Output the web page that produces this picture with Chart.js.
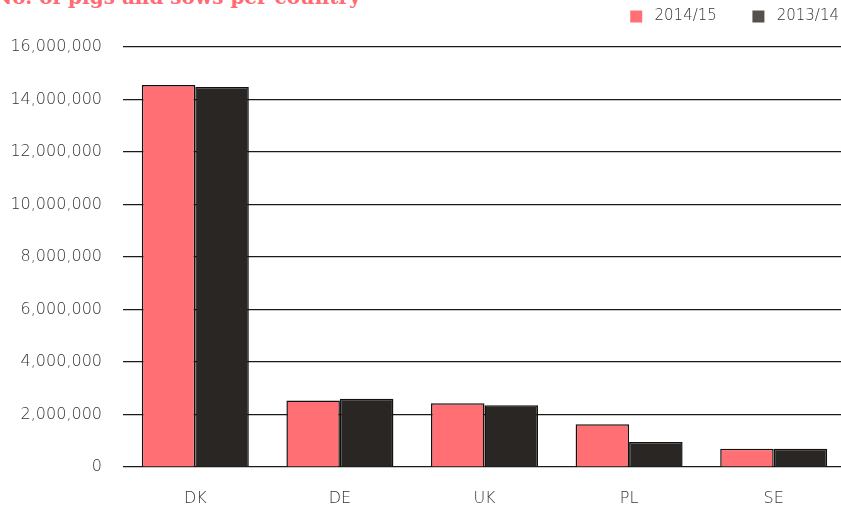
<!DOCTYPE html>
<html>
<head>
<meta charset="utf-8">
<script src="https://cdn.jsdelivr.net/npm/chart.js@4"></script>
<style>
  html, body { margin: 0; padding: 0; background: #fff; overflow: hidden; }
  #wrap { position: relative; width: 841px; height: 506px; overflow: hidden; }
  #title {
    position: absolute; left: -6px; top: -15px;
    font: bold 20px "DejaVu Serif", serif; color: #ff6b72; white-space: nowrap;
  }
  #box { position: absolute; left: 0; top: 0; width: 846px; height: 506px; }
</style>
</head>
<body>
<div id="wrap">
  <div id="title">No. of pigs and sows per country</div>
  <div id="box"><canvas id="pigsChart"></canvas></div>
</div>
<script>
const countries = ["DK", "DE", "UK", "PL", "SE"];
const seasons = ["2014/15", "2013/14"];
const pigs1415 = [14550000, 2530000, 2430000, 1630000, 700000];
const pigs1314 = [14480000, 2600000, 2350000, 950000, 700000];
const yTicks = [0, 2000000, 4000000, 6000000, 8000000, 10000000, 12000000, 14000000, 16000000];

const legendSwatch = ["#ff6f73", "#55504b"];
const labelFont = { family: "DejaVu Sans", size: 16, weight: 200 };
const legendFont = { family: "DejaVu Sans", size: 15, weight: 200 };

// extra room under the legend so the plot starts lower
const legendSpacer = {
    id: "legendSpacer",
    beforeInit(chart) {
        const fit = chart.legend.fit;
        chart.legend.fit = function () {
            fit.bind(chart.legend)();
            this.height += 13;
        };
    }
};

document.addEventListener("DOMContentLoaded", () => {
    const ctx = document.getElementById("pigsChart");

    new Chart(ctx, {
        type: "bar",
        data: {
            labels: countries,
            datasets: [{
                label: seasons[0],
                data: pigs1415,
                backgroundColor: "#ff6f73",
                borderColor: "#111",
                borderWidth: 1.5
            }, {
                label: seasons[1],
                data: pigs1314,
                backgroundColor: "#2a2624",
                borderColor: "#111",
                borderWidth: 1.5
            }]
        },
        plugins: [legendSpacer],
        options: {
            responsive: true,
            maintainAspectRatio: false,
            animation: false,
            layout: { padding: { top: 2, right: 0, left: 0, bottom: 0 } },
            datasets: { bar: { categoryPercentage: 0.74, barPercentage: 1.0 } },
            plugins: {
                title: { display: false },
                tooltip: { enabled: false },
                legend: {
                    position: "top",
                    align: "end",
                    labels: {
                        boxWidth: 12,
                        boxHeight: 12,
                        padding: 7,
                        color: "#333",
                        font: legendFont,
                        // trailing spaces keep the gap between the two entries
                        generateLabels: chart => chart.data.datasets.map((ds, i) => ({
                            text: " " + ds.label + (i === 0 ? "      " : ""),
                            fillStyle: legendSwatch[i],
                            strokeStyle: legendSwatch[i],
                            lineWidth: 0,
                            fontColor: "#333",
                            datasetIndex: i
                        }))
                    }
                }
            },
            scales: {
                x: {
                    grid: { display: false, drawTicks: false },
                    border: { display: false },
                    ticks: { color: "#333", font: labelFont, padding: 22 },
                    afterFit: s => { s.height = 39; }
                },
                y: {
                    min: 0,
                    max: 16000000,
                    afterBuildTicks: s => { s.ticks = yTicks.map(v => ({ value: v })); },
                    grid: { color: "#1a1a1a", lineWidth: 1.2, drawTicks: false },
                    border: { display: false },
                    ticks: {
                        color: "#333",
                        font: labelFont,
                        padding: 21,
                        callback: v => v.toLocaleString("en-US")
                    },
                    afterFit: s => { s.width = 123; }
                }
            }
        }
    });
});
</script>
</body>
</html>
